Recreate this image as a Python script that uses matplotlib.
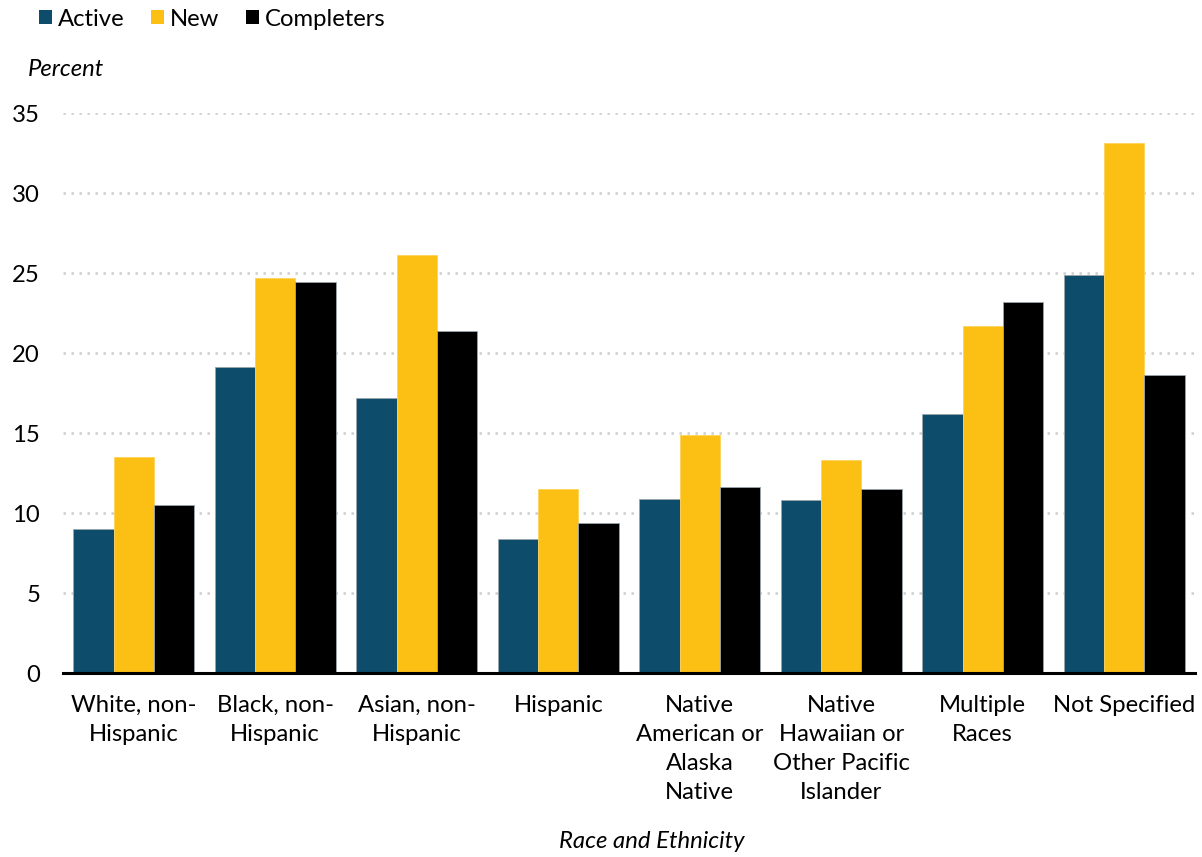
import matplotlib
matplotlib.use("Agg")
import matplotlib.pyplot as plt
import numpy as np
from matplotlib.patches import Patch

plt.rcParams['font.family'] = ['Lato', 'DejaVu Sans']

categories = ["White, non-\nHispanic", "Black, non-\nHispanic", "Asian, non-\nHispanic",
              "Hispanic", "Native\nAmerican or\nAlaska\nNative",
              "Native\nHawaiian or\nOther Pacific\nIslander", "Multiple\nRaces", "Not Specified"]
series_names = ["Active", "New", "Completers"]
active = [9.0, 19.15, 17.2, 8.4, 10.9, 10.8, 16.2, 24.85]
new = [13.5, 24.7, 26.15, 11.5, 14.85, 13.3, 21.7, 33.15]
completers = [10.5, 24.45, 21.4, 9.35, 11.6, 11.5, 23.2, 18.6]
colors = ["#0D4C6A", "#FCBF14", "#000000"]
yticks = [0, 5, 10, 15, 20, 25, 30, 35]

FS = 17.2
W, H = 1202, 857
fig = plt.figure(figsize=(W / 100, H / 100), dpi=100)
ax = fig.add_axes([63 / W, (H - 673) / H, 1132 / W, 560 / H])

x = np.arange(len(categories))
bw = 0.286
for k, (vals, c) in enumerate(zip([active, new, completers], colors)):
    ax.bar(x + (k - 1) * bw, vals, width=bw, color=c, edgecolor="#9aa5ab" if k != 1 else "#fcd35a",
           linewidth=0.6, zorder=3, label=series_names[k])

ax.set_xlim(-0.5, len(categories) - 0.5)
ax.set_ylim(0, 35)
ax.set_yticks(yticks)
ax.set_yticklabels([str(t) for t in yticks], fontsize=FS)
ax.set_xticks(x)
ax.set_xticklabels(categories, fontsize=FS, linespacing=1.46, va="top")
ax.tick_params(axis="both", length=0)
ax.tick_params(axis="x", pad=16)
ax.tick_params(axis="y", pad=16.5)

for s in ["top", "right", "left"]:
    ax.spines[s].set_visible(False)
ax.spines["bottom"].set_linewidth(2.2)
ax.spines["bottom"].set_color("black")
ax.spines["bottom"].set_zorder(4)

ax.yaxis.grid(True, linestyle=(0, (1, 2.2)), color="#cfcfcf", linewidth=1.8, zorder=0)
ax.set_axisbelow(True)

fig.text(28 / W, 1 - 69 / H, "Percent", fontsize=FS, style="italic", va="center", ha="left")
fig.text(652 / W, 1 - 842 / H, "Race and Ethnicity", fontsize=FS, style="italic", va="center", ha="center")

handles = [Patch(facecolor=c, edgecolor="none") for c in colors]
fig.legend(handles, series_names, loc="center left", bbox_to_anchor=(39 / W, 1 - 19 / H),
           ncol=3, frameon=False, fontsize=FS, handlelength=0.55, handleheight=0.55,
           handletextpad=0.25, columnspacing=1.1, borderaxespad=0, borderpad=0)

fig.savefig("out.png", dpi=100)
